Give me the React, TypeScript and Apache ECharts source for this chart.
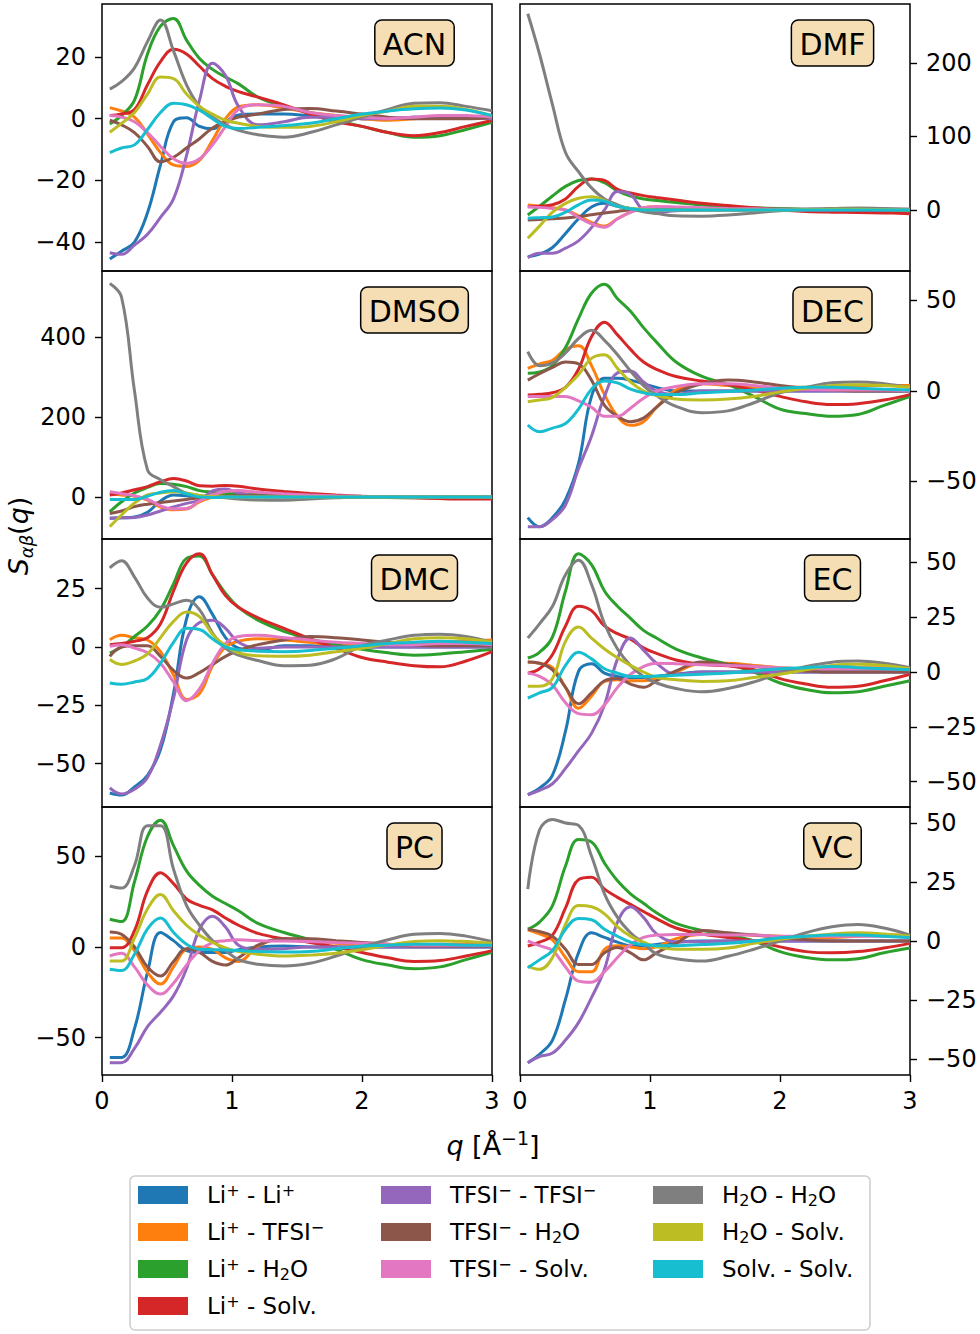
import React, { useEffect, useRef } from "react";
import * as echarts from "echarts";

// q grid (Å^-1) shared by every curve
const Q = [0.06, 0.15, 0.25, 0.35, 0.45, 0.55, 0.65, 0.75, 0.85, 0.95, 1.05, 1.2, 1.4, 1.6, 1.8, 2.0, 2.2, 2.4, 2.6, 2.8, 3.0];

const PAIRS = ["Li⁺ - Li⁺", "Li⁺ - TFSI⁻", "Li⁺ - H₂O", "Li⁺ - Solv.", "TFSI⁻ - TFSI⁻", "TFSI⁻ - H₂O", "TFSI⁻ - Solv.", "H₂O - H₂O", "H₂O - Solv.", "Solv. - Solv."];
const COLORS = ["#1f77b4", "#ff7f0e", "#2ca02c", "#d62728", "#9467bd", "#8c564b", "#e377c2", "#7f7f7f", "#bcbd22", "#17becf"];

// ACN
const acnLiLi = [-45.5, -43, -40, -30.5, -15, -1, 0.3, -2.5, -3.3, -1, 1.2, 1.5, 1.5, 1, 0.5, 0, 0, 0.5, 0.5, 0.3, 0];
const acnLiTFSI = [3.6, 2.5, 0.5, -5, -11, -15, -15.5, -13.5, -7, 0, 3.8, 4.5, 3.5, 2, 1, 0, -0.5, 0, 0.5, 0.5, 0.5];
const acnLiH2O = [-1.7, 1, 6, 21, 30, 32.5, 25.5, 19.5, 16, 13.5, 11.3, 7, 4, 2, -0.5, -2.5, -4.5, -6, -5.5, -3.5, -1.2];
const acnLiSolv = [1, 1.5, 3, 11, 18.5, 22.5, 21, 17, 13, 10.5, 8.8, 7, 4.5, 1.5, -1, -2.5, -4.5, -5.5, -4.5, -2.5, -0.6];
const acnTT = [-43.5, -44, -41, -37.5, -32, -26, -12, 6, 18, 14, 4, -2, -1, 0.5, 0.5, 0, 0, 0.5, 0.5, 0.3, 0];
const acnTH = [-0.5, -2, -4.5, -9, -14, -12.5, -9.5, -6.5, -3, -1, 0.5, 1.5, 3, 3.3, 2.5, 1.5, 0.5, 0, 0, 0, 0.5];
const acnTS = [1, 0.5, -1, -4.5, -9, -13, -14.5, -13, -8.5, -2.5, 3, 4.5, 4, 2, 1, 0.5, 0, 0.5, 1, 1, 0.5];
const acnHH = [9.6, 12, 16.5, 25, 32, 22, 11, 4, 0.5, -2, -3.8, -5.2, -6, -4.5, -2, 0.5, 3, 5, 5.2, 4, 2.6];
const acnHS = [-4.4, -1.5, 2, 8, 13.5, 13, 8, 4, 1.5, -0.5, -1.5, -2.5, -2.8, -2.5, -1, 1, 2.5, 4, 4, 3, 1];
const acnSS = [-11, -9.5, -8.5, -3.5, 2, 5, 4.5, 2.8, 0, -2.5, -3.2, -2.8, -2.2, -1.5, 0, 1.5, 2.5, 3.2, 3.5, 2.8, 1];

// DMF
const dmfLiLi = [-63.5, -60, -51, -32, -12, 4, 9, 5, 2, 0, 0, 0, 0, 0, 0, 0, 0, 0, 0, 0, 0];
const dmfLiTFSI = [6.8, 5, 3, 0, -8, -17, -22, -12, -3, 3, 4.5, 3, 2, 1, 0.5, 0, 0, 0, 0, 0, 0];
const dmfLiH2O = [-6.8, 5, 19, 32, 40, 42, 37, 26, 19, 15, 13, 10, 6.8, 4.5, 3, 2, 1, 0, -1, -1.5, -2];
const dmfLiSolv = [4.5, 5, 7, 15, 32, 42, 40, 28, 23, 19.5, 17, 13.5, 9, 6, 3, 0, -2, -3, -3.5, -4, -5];
const dmfTT = [-65, -59, -59, -52, -42, -24, 0, 25, 21, 0, -3, -1, 0, 0, 0, 0, 0, 0, 0, 0, 0];
const dmfTH = [-13.6, -13, -12, -11, -9, -6.5, -4, -2, 0, 1, 1.5, 2, 2, 2, 1.5, 1, 0.5, 0.5, 0.5, 0.5, 0.5];
const dmfTS = [4.5, 3.5, 2, 0, -10, -19, -23.5, -12, -3, 3, 4.5, 4, 3, 2, 1.5, 1, 1, 1, 1, 1, 1];
const dmfHH = [266.7, 212, 143, 78, 52, 30, 15, 7, 1.5, -2.5, -5, -8, -8.5, -7, -4, -1, 1, 2, 2.5, 2, 1];
const dmfHS = [-38.5, -22, -3, 9, 16, 18, 13, 5, 2, 0.5, 0, 0, 0, 0, 0, 0, 0.5, 1, 1, 0.5, 0];
const dmfSS = [-11.3, -10.5, -9.5, -3, 7, 13.5, 12, 5, 1.5, 0, 0, 0, 0, 0, 0, 0, 0, 0, 0, 0, 0];

// DMSO
const dmsoLiLi = [-53, -52, -50, -38, -10, 5, 3, 0, 0, 0, 0, 0, 0, 0, 0, 0, 0, 0, 0, 0, 0];
const dmsoLiTFSI = [8, 5, 2, -8, -25, -32, -30, -12, 0, 7, 9, 6, 3, 1, 0, 0, 0, 0, 0, 0, 0];
const dmsoLiH2O = [-37, -12, 10, 24, 34, 32, 26, 16, 12, 9, 7, 5, 3, 1, 0, -1, -1.5, -2, -2, -2.5, -3];
const dmsoLiSolv = [5, 10, 18, 26, 38, 46, 40, 28, 27, 29, 27, 20, 14, 9, 5, 2, 0, -2, -4, -5, -5];
const dmsoTT = [-53, -52, -51, -45, -35, -25, -16, -8, 15, 20, 10, 2, 0, 0, 0, 0, 0, 0, 0, 0, 0];
const dmsoTH = [-41, -35, -24, -18, -14, -10, -6, -2, 0, 2, 3, 3, 2, 1, 1, 1, 1, 1, 1, 1, 1];
const dmsoTS = [13, 8, 3, -6, -22, -30, -29, -10, 5, 14, 16, 12, 8, 5, 3, 2, 1, 1, 1, 1, 1];
const dmsoHH = [534, 500, 265, 68, 43, 26, 9, 4, 1, -2, -5, -7.5, -8, -5, -2, 0, 0, 0, 0, 0, 0];
const dmsoHS = [-74, -45, -15, 5, 10, 13, 10, 4, 1, 0, 0, 0, 0, 0, 0, 0, 0, 0, 0, 0, 0];
const dmsoSS = [-6, -6, -6, 2, 12, 16, 8, 0, -1, 0, 0, 0, 0, 0, 0, 0, 0, 0, 0, 0, 0];

// DEC
const decLiLi = [-70, -75, -70, -60, -40, -3, 7, 7, 6, 4, 2, 0, 0, 0, 0, 0, 0, 0, 0, 0, 0];
const decLiTFSI = [12.5, 15, 17, 23, 25, 14, -2, -14, -19, -17, -9, 0.5, 4, 3, 2, 2, 2, 2.5, 3, 3, 3];
const decLiH2O = [9.8, 10.5, 14, 24, 40, 54, 59, 51, 44, 35, 27, 16, 8, 3.5, -3, -10, -12.5, -14, -13, -8, -3];
const decLiSolv = [-2.2, -1.8, -1, 2, 12, 30, 38, 31, 23, 16, 12, 8, 5.5, 3.5, 0.5, -3, -6, -7.5, -7, -5, -2];
const decTT = [-75, -75, -71, -63, -43, -25, -3, 10, 11, 5, 0, -2, 0, 0, 0, 0, 0, 0, 0, 0, 0];
const decTH = [6, 9.5, 13, 16, 15, 6, -8, -14, -17, -15, -9, -1, 4, 6, 5, 3, 1.5, 0.5, 0, 0, 0];
const decTS = [-3, -3, -3, -3, -5.5, -9, -14, -14, -9.5, -4, 0, 2.5, 4, 4, 3, 1.5, 1, 0.5, 0.5, 0.5, 0];
const decHH = [21.7, 14, 15.5, 21, 29, 33.5, 28, 20, 11, 3, -2.5, -8.5, -12, -11, -6.5, -1, 2, 4.5, 5, 4, 2];
const decHS = [-5.9, -5, -3.5, 2, 9, 18, 20, 12.5, 5, 0, -2.5, -4.5, -5, -4.5, -3, -0.5, 1.5, 3, 3.5, 3, 2];
const decSS = [-18.8, -22.5, -20.5, -18, -10, 1, 5.5, 4.5, 1, -1, -2, -2, -1, -0.3, 0.5, 1.5, 2, 2, 1.5, 1, 0.5];

// DMC
const dmcLiLi = [-62.6, -63.5, -60, -55, -44, -20, 12, 21.5, 14, 4, -0.5, -1.5, 0.5, 0.5, 0, 0, 0, 0, 0, 0, 0];
const dmcLiTFSI = [3.1, 5, 4, 3, -2, -12, -22.5, -20, -8, 0, 2.5, 3.5, 3, 2, 1, 1, 1, 1.5, 2, 2.5, 3];
const dmcLiH2O = [-2.6, 0, 4.5, 9, 16, 27, 38, 39, 31, 23, 17, 11.5, 6.7, 3.5, 1, -1, -2.5, -3.5, -3, -2, -1];
const dmcLiSolv = [1, 1.5, 2.5, 4, 10, 24, 36, 40, 31, 22, 17, 12.5, 8, 3.5, -0.5, -4.5, -6.5, -8, -8.5, -6, -2];
const dmcTT = [-60.4, -63, -61, -56, -42, -22, 3, 10.5, 11.5, 8, 2, -0.5, 0, 0, 0, 0, 0, 0, 0, 0, 0];
const dmcTH = [-4, 0, 0.5, 0.5, -4, -10, -13.3, -11, -7.5, -4, -1.5, 1, 3, 4.5, 4, 3, 2, 1, 0.5, 0.5, 0.5];
const dmcTS = [0.3, 1, -0.5, -2.5, -7, -15, -23, -18, -7, 1.5, 4.5, 5, 4, 3, 2, 1.5, 1, 1, 1.5, 1.5, 1];
const dmcHH = [33.9, 37, 30, 21, 17, 18.5, 20, 16, 6, -0.5, -3.5, -5.8, -8, -7.8, -5, 0.5, 3, 5, 5.5, 4.5, 2];
const dmcHS = [-5.4, -7.5, -6, -3, 4, 11, 15, 13, 5.5, 0.5, -2.5, -3.8, -4, -3.5, -2, -0.5, 1.5, 3.5, 4, 3.5, 2];
const dmcSS = [-15.4, -16, -15, -13.5, -7, 2, 8, 7.5, 3.5, 0, -1.2, -1.8, -2, -1.5, -0.5, 0.5, 1.5, 2, 2.5, 2, 1.5];

// EC
const ecLiLi = [-56, -53, -47, -27, 0.3, 3.8, -0.5, -2, -2.7, -2.5, -2, -1, 0, 0, 0, 0, 0, 0, 0, 0, 0];
const ecLiTFSI = [4.6, 4, 2, -7, -16.5, -11, -4.3, -3.5, -4, -4, -3, 0, 4, 4, 3, 2, 1.5, 1.5, 2, 2, 2];
const ecLiH2O = [6.4, 9, 16, 37, 54, 49, 37, 30, 24.5, 19, 15.5, 10.5, 6.4, 3.5, 0, -5, -8, -9.5, -9, -6.5, -4];
const ecLiSolv = [-0.5, 1.5, 8, 21, 30, 28, 21, 17.5, 15, 11, 8.5, 5.5, 3.5, 2.8, 1, -3, -5.5, -7, -6.5, -4, -1];
const ecTT = [-56, -54, -51, -44, -36, -28, -15, 6, 15.5, 10, 4, -1, 0, 0, 0, 0, 0, 0, 0, 0, 0];
const ecTH = [4.6, 4, 1, -7, -14.5, -9.5, -4, -3, -5.5, -7, -4, 0.5, 4.6, 3.5, 2.5, 1.5, 0.5, 0, 0, 0, 0];
const ecTS = [-0.5, -2, -6, -14, -19, -19.5, -15, -7, -1, 2.5, 4, 3.8, 3.3, 3, 2.5, 2, 1.5, 1.5, 1.5, 1.5, 1];
const ecHH = [15.5, 22, 30, 44.4, 51, 40, 22, 10.5, 3, -2, -5, -7.5, -9, -7.5, -4.5, -0.5, 2.5, 4.5, 5, 4, 2];
const ecHS = [-6.5, -6.5, -3, 14, 20.5, 15.5, 10.5, 6.5, 3, 0, -2.5, -3.5, -4.3, -4, -2.5, -1, 1, 3, 3.5, 3, 1.5];
const ecSS = [-11.9, -9.5, -7, 3, 9, 6, 1.5, -0.5, -2, -2, -1.8, -1.5, -1, -0.5, 0.5, 1.5, 2, 2.5, 2, 1.5, 1];

// PC
const pcLiLi = [-61, -61, -45, -14, 8, 3.5, -2, -3, -3, -3, -1.5, 0, 0.5, 0, 0, 0, 0, 0, 0, 0, 0];
const pcLiTFSI = [5, 5, -2, -14, -20.5, -11, -1, 0, -1.3, -6, -8, 0.5, 4.5, 3.5, 2, 1, 0.5, 1, 1.5, 1.5, 1.5];
const pcLiH2O = [15.3, 14, 36, 61, 70, 56, 42, 34, 28, 24, 20, 13, 8, 4, -1.3, -7, -10, -12, -11, -7, -3];
const pcLiSolv = [-0.4, -0.4, 9, 31, 41, 35, 26.5, 23, 20.5, 16, 12, 7.5, 4.5, 2.5, 0, -3, -6, -8, -7.5, -5, -2];
const pcTT = [-63.9, -63.9, -56, -44, -36, -27, -12, 9.8, 17, 11, 1, -1.3, -1, 0, 0, 0, 0, 0, 0, 0, 0];
const pcTH = [8.3, 7, 0, -11, -16, -8, -1, -3, -8, -10, -6, 1, 4.5, 4.6, 3.5, 2.5, 1.5, 0.5, 0.5, 0.5, 0.5];
const pcTS = [-5, -3.5, -11, -21, -26, -20, -10, -2, 2.4, 3.5, 4, 3.5, 3.3, 3, 2.5, 2, 1.5, 1, 1, 1, 1];
const pcHH = [33.7, 32.5, 45, 67, 67, 43, 23, 12, 3.5, -2, -7, -9.5, -10.5, -9, -5, 0, 4, 7, 7.5, 6, 3];
const pcHS = [-7.7, -7.7, 5, 21, 29, 20, 12, 6.5, 2.5, -0.5, -2.5, -4, -5, -4.5, -3.5, -1.5, 1, 3, 3.5, 3, 2];
const pcSS = [-12.3, -13, -4, 10, 16, 8, 1.5, -1.3, -1.5, -1.7, -2, -2.5, -2.8, -2.5, -1, 0.5, 1, 1.5, 1.5, 1, 1];

// VC
const vcLiLi = [-51.6, -48, -42, -24.7, -5, 3.5, 1.5, -0.5, -2, -2, -1.5, -0.5, 0, 0, 0, 0, 0, 0, 0, 0, 0];
const vcLiTFSI = [4.7, 3, 0.5, -7, -13, -13, -3.5, -2, -2.5, -3.3, -2.5, 1, 2.8, 2.8, 2.5, 2, 1.5, 1.5, 2, 2.5, 2.5];
const vcLiH2O = [5, 8, 15, 31.8, 43, 42, 33, 25.5, 20, 16, 12, 7.5, 4.5, 2.5, 0, -4.5, -7, -8, -7.5, -5, -3];
const vcLiSolv = [-2.1, -0.5, 2.5, 14, 26, 27, 22, 18.5, 15.5, 12.5, 9.5, 5.5, 3, 1.5, 0, -2.5, -4.5, -5, -4.5, -3, -1];
const vcTT = [-51.6, -49, -47.5, -42, -34.6, -24, -12, 8, 14.5, 10, 3, -0.3, -0.3, 0, 0, 0, 0, 0, 0, 0, 0];
const vcTH = [5, 4, 2, -3.5, -10, -10, -5, -2.8, -5, -8, -5, -1, 4.5, 3.5, 2.5, 1.5, 0.5, 0, 0, 0, 0];
const vcTS = [0, -2, -4, -11, -17, -17.5, -13, -7, -1.5, 1.5, 2.5, 2.8, 2.8, 2.5, 2.5, 2, 2, 2, 2, 2, 1.5];
const vcHH = [22, 47, 51.5, 50, 49, 36, 20, 10, 3.5, -1, -5.5, -7.5, -8.5, -6.5, -3.5, 0, 3.5, 6, 7, 5.5, 2.5];
const vcHS = [-10.6, -12, -7, 7, 15, 14.5, 11.5, 6, 2, -0.5, -2.5, -3.5, -3.5, -3, -1, 0.7, 2, 3, 3.5, 3, 2];
const vcSS = [-11.3, -8, -4, 5, 9.5, 9, 5, 2, -0.5, -1.5, -2, -2, -1.5, -1, 0, 1.4, 2, 2.5, 2.5, 2, 1.5];

const ACN = [acnLiLi, acnLiTFSI, acnLiH2O, acnLiSolv, acnTT, acnTH, acnTS, acnHH, acnHS, acnSS];
const DMF = [dmfLiLi, dmfLiTFSI, dmfLiH2O, dmfLiSolv, dmfTT, dmfTH, dmfTS, dmfHH, dmfHS, dmfSS];
const DMSO = [dmsoLiLi, dmsoLiTFSI, dmsoLiH2O, dmsoLiSolv, dmsoTT, dmsoTH, dmsoTS, dmsoHH, dmsoHS, dmsoSS];
const DEC = [decLiLi, decLiTFSI, decLiH2O, decLiSolv, decTT, decTH, decTS, decHH, decHS, decSS];
const DMC = [dmcLiLi, dmcLiTFSI, dmcLiH2O, dmcLiSolv, dmcTT, dmcTH, dmcTS, dmcHH, dmcHS, dmcSS];
const EC = [ecLiLi, ecLiTFSI, ecLiH2O, ecLiSolv, ecTT, ecTH, ecTS, ecHH, ecHS, ecSS];
const PC = [pcLiLi, pcLiTFSI, pcLiH2O, pcLiSolv, pcTT, pcTH, pcTS, pcHH, pcHS, pcSS];
const VC = [vcLiLi, vcLiTFSI, vcLiH2O, vcLiSolv, vcTT, vcTH, vcTS, vcHH, vcHS, vcSS];

const X_TICKS = [0, 1, 2, 3];

const PANELS = [
  { name: "ACN", curves: ACN, min: -49.4, max: 37.2, ticks: [-40, -20, 0, 20], col: 0, row: 0 },
  { name: "DMF", curves: DMF, min: -83, max: 280, ticks: [0, 100, 200], col: 1, row: 0 },
  { name: "DMSO", curves: DMSO, min: -105, max: 565, ticks: [0, 200, 400], col: 0, row: 1 },
  { name: "DEC", curves: DEC, min: -81.8, max: 66.3, ticks: [-50, 0, 50], col: 1, row: 1 },
  { name: "DMC", curves: DMC, min: -68.6, max: 46.3, ticks: [-50, -25, 0, 25], col: 0, row: 2 },
  { name: "EC", curves: EC, min: -61.6, max: 60.7, ticks: [-50, -25, 0, 25, 50], col: 1, row: 2 },
  { name: "PC", curves: PC, min: -70.7, max: 77.3, ticks: [-50, 0, 50], col: 0, row: 3 },
  { name: "VC", curves: VC, min: -56.8, max: 56.8, ticks: [-50, -25, 0, 25, 50], col: 1, row: 3 },
];

const FONT = "DejaVu Sans";
const GRID_LEFT = [102, 520];
const GRID_W = 390;
const ROW_TOP = [4, 271, 539, 807];
const ROW_H = [267, 268, 268, 268];
const LABEL_CX = [414.5, 832.5];

function measure(text: string, font: string) {
  const c = document.createElement("canvas").getContext("2d");
  if (!c) return text.length * 20;
  c.font = font;
  return c.measureText(text).width;
}

function richName(name: string) {
  return name.replace(/⁺/g, "{sup|+}").replace(/⁻/g, "{sup|\u2212}").replace(/₂/g, "{sub|2}");
}

function buildOption() {
  const grid = PANELS.map((p) => ({
    left: GRID_LEFT[p.col],
    top: ROW_TOP[p.row],
    width: GRID_W,
    height: ROW_H[p.row],
    show: true,
    borderColor: "#000",
    borderWidth: 1.5,
    backgroundColor: "rgba(0,0,0,0)",
  }));
  const tickLine = { color: "#000", width: 1.4 };
  const xAxis = PANELS.map((p, i) => ({
    type: "value",
    gridIndex: i,
    min: 0,
    max: 3,
    interval: 1,
    axisLine: { show: false, onZero: false },
    splitLine: { show: false },
    axisTick: { show: p.row === 3, length: 7, lineStyle: tickLine, customValues: X_TICKS },
    axisLabel: { show: p.row === 3, fontSize: 24, color: "#000", fontFamily: FONT, margin: 14, customValues: X_TICKS },
  }));
  const yAxis = PANELS.map((p, i) => ({
    type: "value",
    gridIndex: i,
    min: p.min,
    max: p.max,
    position: p.col === 0 ? "left" : "right",
    axisLine: { show: false, onZero: false },
    splitLine: { show: false },
    axisTick: { show: true, length: 7, lineStyle: tickLine, customValues: p.ticks },
    axisLabel: {
      customValues: p.ticks,
      fontSize: 24,
      color: "#000",
      fontFamily: FONT,
      margin: 16,
      formatter: (v: number) => String(v).replace("-", "\u2212"),
    },
  }));
  const series: any[] = [];
  PANELS.forEach((p, i) => {
    p.curves.forEach((arr, k) => {
      series.push({
        type: "line",
        name: PAIRS[k],
        xAxisIndex: i,
        yAxisIndex: i,
        data: Q.map((q, j) => [q, arr[j]]),
        showSymbol: false,
        symbol: "none",
        smooth: 0.4,
        clip: true,
        silent: true,
        lineStyle: { width: 3, color: COLORS[k] },
        itemStyle: { color: COLORS[k] },
        color: COLORS[k],
      });
    });
  });
  const legendBase = {
    orient: "vertical",
    icon: "rect",
    itemWidth: 50,
    itemHeight: 18,
    itemGap: 11,
    selectedMode: false,
    top: 1177,
    formatter: (name: string) => richName(name),
    textStyle: {
      fontSize: 23,
      fontFamily: FONT,
      color: "#000",
      padding: [0, 0, 0, 14],
      lineHeight: 26,
      rich: {
        sup: { fontSize: 16, fontFamily: FONT, color: "#000", verticalAlign: "top", lineHeight: 16 },
        sub: { fontSize: 16, fontFamily: FONT, color: "#000", verticalAlign: "bottom", lineHeight: 16 },
      },
    },
  };
  const legend = [
    { ...legendBase, left: 133, data: PAIRS.slice(0, 4) },
    { ...legendBase, left: 376, data: PAIRS.slice(4, 7) },
    { ...legendBase, left: 648, data: PAIRS.slice(7) },
  ];
  const labelFont = `30px '${FONT}'`;
  const panelLabels = PANELS.map((p) => {
    const w = measure(p.name, labelFont) + 16;
    const cx = LABEL_CX[p.col];
    const top = ROW_TOP[p.row] + 16;
    return {
      type: "group",
      z: 10,
      children: [
        {
          type: "rect",
          shape: { x: cx - w / 2, y: top, width: w, height: 46, r: 7 },
          style: { fill: "#f5deb3", stroke: "#000", lineWidth: 1.5 },
        },
        {
          type: "text",
          x: cx,
          y: top + 24,
          style: { text: p.name, font: labelFont, fill: "#000", align: "center", verticalAlign: "middle" },
        },
      ],
    };
  });
  const graphic = [
    {
      type: "rect",
      z: -1,
      shape: { x: 130, y: 1176, width: 740, height: 154, r: 5 },
      style: { fill: "#fff", stroke: "#cccccc", lineWidth: 1.5 },
    },
    ...panelLabels,
    {
      type: "text",
      x: 18,
      y: 536,
      rotation: Math.PI / 2,
      style: {
        text: "{i|S}{s|αβ}{r|(}{i|q}{r|)}",
        align: "center",
        verticalAlign: "middle",
        rich: {
          i: { fontSize: 27, fontStyle: "italic", fontFamily: FONT, fill: "#000", lineHeight: 34 },
          r: { fontSize: 27, fontFamily: FONT, fill: "#000", lineHeight: 34 },
          s: { fontSize: 18, fontStyle: "italic", fontFamily: FONT, fill: "#000", verticalAlign: "bottom", lineHeight: 20 },
        },
      },
    },
    {
      type: "text",
      x: 493,
      y: 1145,
      style: {
        text: "{i|q}{r| [Å}{sup|\u22121}{r|]}",
        align: "center",
        verticalAlign: "middle",
        rich: {
          i: { fontSize: 27, fontStyle: "italic", fontFamily: FONT, fill: "#000", lineHeight: 34 },
          r: { fontSize: 27, fontFamily: FONT, fill: "#000", lineHeight: 34 },
          sup: { fontSize: 19, fontFamily: FONT, fill: "#000", verticalAlign: "top", lineHeight: 20 },
        },
      },
    },
  ];
  return {
    animation: false,
    backgroundColor: "#fff",
    textStyle: { fontFamily: FONT },
    grid,
    xAxis,
    yAxis,
    series,
    legend,
    graphic,
  };
}

export default function App() {
  const ref = useRef<HTMLDivElement>(null);
  useEffect(() => {
    if (!ref.current) return;
    const chart = echarts.init(ref.current, undefined, { renderer: "svg" });
    chart.setOption(buildOption() as any);
    return () => chart.dispose();
  }, []);
  return (
    <div
      ref={ref}
      style={{ position: "absolute", left: 0, top: 0, width: 980, height: 1334, background: "#fff" }}
    />
  );
}
